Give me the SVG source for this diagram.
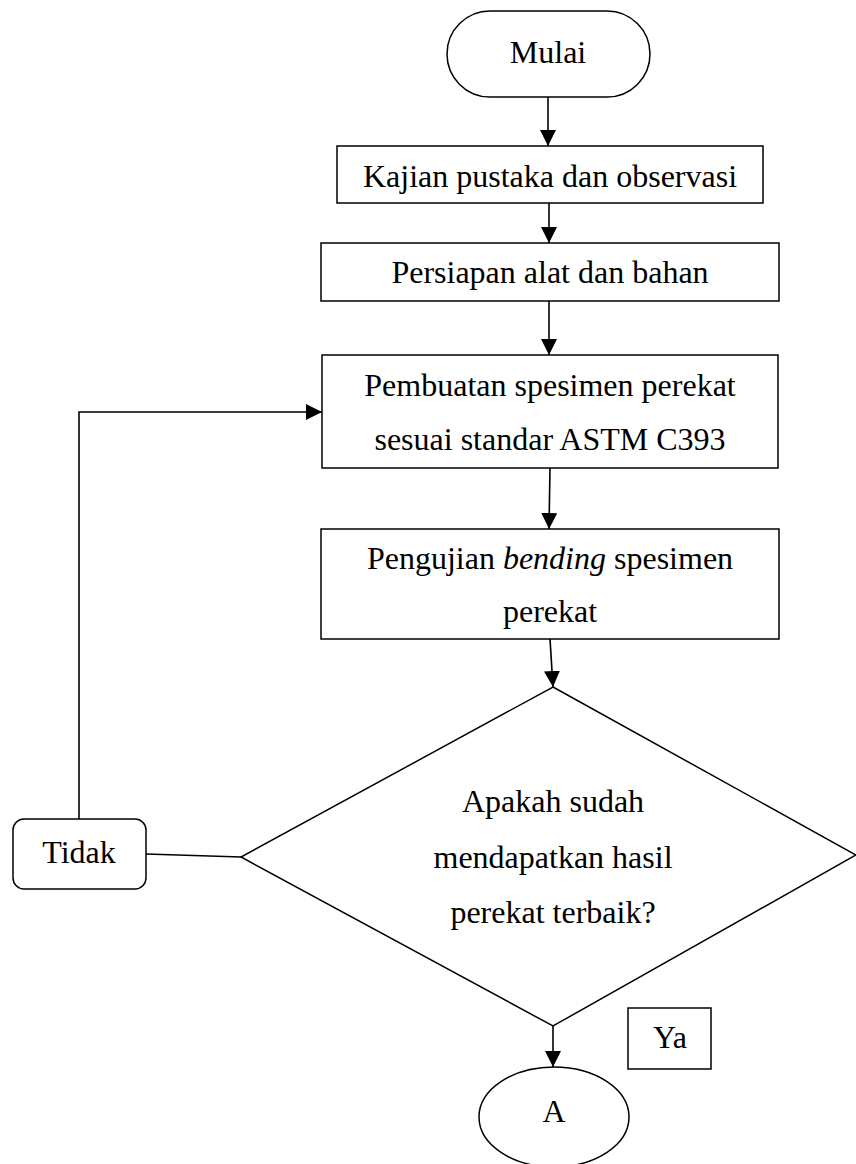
<svg xmlns="http://www.w3.org/2000/svg" width="856" height="1164" viewBox="0 0 856 1164">
  <style>
    .shape { fill: #ffffff; stroke: #000000; stroke-width: 1.5; }
    .conn { fill: none; stroke: #000000; stroke-width: 1.6; }
    .txt { font-family: "Liberation Serif", "Times New Roman", serif; font-size: 32px; fill: #000000; text-anchor: middle; }
  </style>
  <defs>
    <marker id="arrow" markerUnits="userSpaceOnUse" markerWidth="16" markerHeight="16" refX="16" refY="8" orient="auto">
      <path d="M0,0 L16,8 L0,16 z" fill="#000000"/>
    </marker>
  </defs>
  <rect width="856" height="1164" fill="#ffffff"/>

  <g id="connectors">
    <line class="conn" x1="548" y1="97" x2="548" y2="146" marker-end="url(#arrow)"/>
    <line class="conn" x1="549" y1="203" x2="549" y2="243" marker-end="url(#arrow)"/>
    <line class="conn" x1="549" y1="301" x2="549" y2="355" marker-end="url(#arrow)"/>
    <line class="conn" x1="550" y1="468" x2="549" y2="529" marker-end="url(#arrow)"/>
    <line class="conn" x1="550" y1="639" x2="553" y2="687" marker-end="url(#arrow)"/>
    <line class="conn" x1="553" y1="1026" x2="553" y2="1067" marker-end="url(#arrow)"/>
    <line class="conn" x1="146" y1="854" x2="241" y2="857"/>
    <polyline class="conn" points="79,819 79,412 322,412" marker-end="url(#arrow)"/>
  </g>

  <g id="mulai">
    <rect class="shape" x="447" y="11" width="203" height="86" rx="43" ry="43"/>
    <text class="txt" x="548" y="63">Mulai</text>
  </g>

  <g id="kajian">
    <rect class="shape" x="337" y="146" width="426" height="57"/>
    <text class="txt" x="550" y="187">Kajian pustaka dan observasi</text>
  </g>

  <g id="persiapan">
    <rect class="shape" x="321" y="243" width="458" height="58"/>
    <text class="txt" x="550" y="283">Persiapan alat dan bahan</text>
  </g>

  <g id="pembuatan">
    <rect class="shape" x="322" y="355" width="456" height="113"/>
    <text class="txt" x="550" y="396">Pembuatan spesimen perekat</text>
    <text class="txt" x="550" y="450">sesuai standar ASTM C393</text>
  </g>

  <g id="pengujian">
    <rect class="shape" x="321" y="529" width="458" height="110"/>
    <text class="txt" x="550" y="569">Pengujian <tspan font-style="italic">bending</tspan> spesimen</text>
    <text class="txt" x="550" y="622">perekat</text>
  </g>

  <g id="keputusan">
    <polygon class="shape" points="553,687 856,855 553,1026 241,857"/>
    <text class="txt" x="553" y="812">Apakah sudah</text>
    <text class="txt" x="553" y="868">mendapatkan hasil</text>
    <text class="txt" x="553" y="923">perekat terbaik?</text>
  </g>

  <g id="tidak">
    <rect class="shape" x="13" y="819" width="133" height="70" rx="11" ry="11"/>
    <text class="txt" x="79" y="863">Tidak</text>
  </g>

  <g id="ya">
    <rect class="shape" x="628" y="1008" width="83" height="61"/>
    <text class="txt" x="670" y="1048">Ya</text>
  </g>

  <g id="a">
    <ellipse class="shape" cx="554" cy="1117" rx="75" ry="50"/>
    <text class="txt" x="554" y="1122">A</text>
  </g>
</svg>
